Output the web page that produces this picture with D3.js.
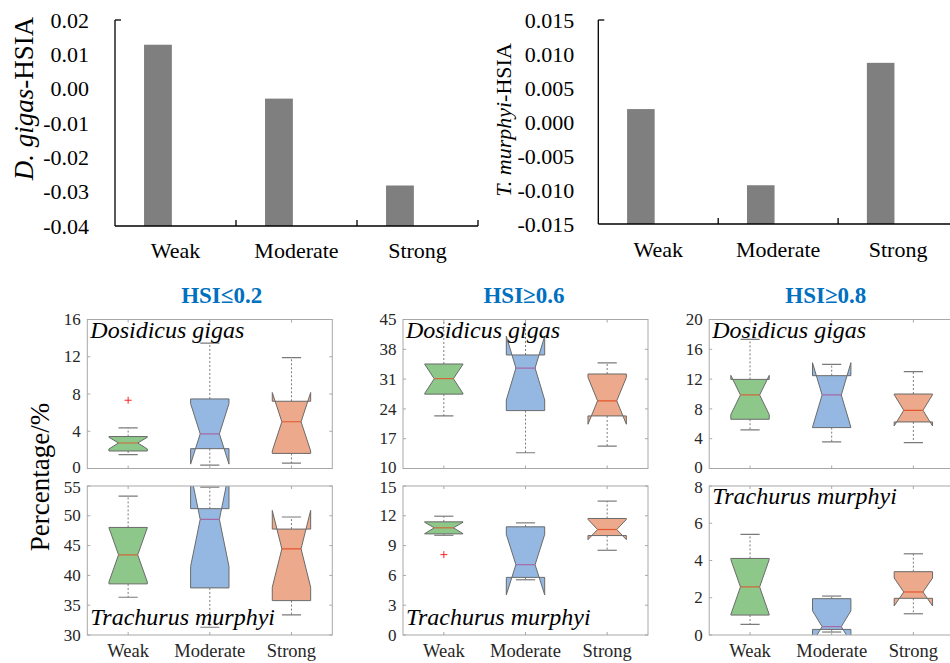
<!DOCTYPE html>
<html><head><meta charset="utf-8">
<script src="https://cdn.jsdelivr.net/npm/d3@7"></script>
<style>
body{margin:0;background:#fff}
svg{display:block}
svg text{font-family:"Liberation Serif","Times New Roman",Times,"DejaVu Serif",serif;}
</style>
</head><body>
<svg id="c" width="950" height="663"></svg>
<script>
// ---------------- DATA ----------------
const categories = ["Weak", "Moderate", "Strong"];

// top bar charts
const gigasHSIA   = [0.0128, -0.0029, -0.0282];
const murphyiHSIA = [0.0019, -0.0093, 0.0087];
const gigasHSIATicks   = [0.02, 0.01, 0.00, -0.01, -0.02, -0.03, -0.04];
const murphyiHSIATicks = [0.015, 0.010, 0.005, 0.000, -0.005, -0.010, -0.015];

// box plot panels
const panelTitles = ["HSI≤0.2", "HSI≥0.6", "HSI≥0.8"];
const speciesTop = "Dosidicus gigas";
const speciesBottom = "Trachurus murphyi";

// each: [lowerWhisker, q1, notchLow, median, notchHigh, q3, upperWhisker]
const gigasLow = [
  [1.48, 1.88, 2.10, 2.74, 3.35, 3.43, 4.37],
  [0.36, 2.13, 0.47, 3.72, 6.97, 7.47, 13.47],
  [0.58, 1.62, 1.88, 5.02, 8.16, 7.22, 11.90]
];
const gigasLowOutliers = [[7.33], [], []];
const gigasMid = [
  [22.35, 27.47, 27.60, 31.09, 34.50, 34.55, 46.0],
  [13.70, 23.60, 26.10, 33.60, 41.10, 36.67, 46.0],
  [15.27, 22.35, 20.40, 25.90, 31.40, 32.20, 34.80]
];
const gigasMidOutliers = [[], [], []];
const gigasHigh = [
  [5.18, 6.61, 7.24, 9.87, 12.50, 11.96, 17.32],
  [3.57, 5.49, 5.54, 9.87, 14.20, 12.46, 13.97],
  [3.48, 6.25, 5.71, 7.81, 9.91, 10.00, 12.99]
];
const gigasHighOutliers = [[], [], []];

const murphyiLow = [
  [36.33, 38.58, 38.90, 43.45, 48.00, 48.05, 53.30],
  [31.30, 37.90, 41.50, 49.40, 57.30, 51.20, 54.80],
  [33.36, 35.77, 38.00, 44.46, 50.90, 47.77, 49.80]
];
const murphyiLowOutliers = [[], [], []];
const murphyiMid = [
  [10.04, 10.18, 10.20, 10.79, 11.35, 11.39, 11.96],
  [5.56, 5.80, 4.04, 7.08, 10.12, 10.89, 11.29],
  [8.53, 10.01, 9.60, 10.62, 11.64, 11.73, 13.48]
];
const murphyiMidOutliers = [[8.09], [], []];
const murphyiHigh = [
  [0.57, 1.07, 1.10, 2.58, 4.05, 4.11, 5.40],
  [0.16, 0.30, -0.40, 0.45, 1.30, 1.95, 2.09],
  [1.14, 1.97, 1.56, 2.31, 3.06, 3.40, 4.36]
];
const murphyiHighOutliers = [[], [], []];

const gigasTicksLow  = [0, 4, 8, 12, 16];
const gigasTicksMid  = [10, 17, 24, 31, 38, 45];
const gigasTicksHigh = [0, 4, 8, 12, 16, 20];
const murphyiTicksLow  = [30, 35, 40, 45, 50, 55];
const murphyiTicksMid  = [0, 3, 6, 9, 12, 15];
const murphyiTicksHigh = [0, 2, 4, 6, 8];

// ---------------- STYLE ----------------
const boxFill = ["#8dc88a", "#94b8e1", "#eca98b"];
const medianColor = ["#d0693a", "#a56aa6", "#e4572e"];
const svg = d3.select("#c");
const defs = svg.append("defs");

// ---------------- BAR CHARTS ----------------
function fmt(d, p) { return d3.format("." + p + "f")(d).replace("−", "-"); }

function barChart(o) {
  const g = svg.append("g");
  const x = d3.scaleBand().domain(categories).range([o.x0, o.x1]);
  const y = d3.scaleLinear().domain([o.ticks[o.ticks.length - 1], o.ticks[0]]).range([o.yb, o.yt]);
  const bw = x.bandwidth();
  g.selectAll("rect.bar").data(o.values).join("rect")
    .attr("x", (d, i) => x(categories[i]) + bw * 0.24)
    .attr("width", bw * 0.23)
    .attr("y", d => y(d))
    .attr("height", d => y.range()[0] - y(d))
    .attr("fill", "#7f7f7f");
  g.append("line").attr("x1", o.x0).attr("x2", o.x0).attr("y1", y.range()[1]).attr("y2", y.range()[0])
    .attr("stroke", "#000").attr("stroke-width", 1.3);
  g.append("line").attr("x1", o.x0).attr("x2", o.x0 + 6).attr("y1", y.range()[1]).attr("y2", y.range()[1])
    .attr("stroke", "#000").attr("stroke-width", 1.3);
  g.append("line").attr("x1", o.x0).attr("x2", o.x1).attr("y1", y.range()[0]).attr("y2", y.range()[0])
    .attr("stroke", "#000").attr("stroke-width", 1.3);
  g.selectAll("line.xt").data(categories).join("line")
    .attr("x1", d => x(d) + bw).attr("x2", d => x(d) + bw)
    .attr("y1", y.range()[0]).attr("y2", y.range()[0] - 6)
    .attr("stroke", "#000").attr("stroke-width", 1.3);
  g.selectAll("text.yl").data(o.ticks).join("text")
    .attr("x", o.x0 - o.labGap).attr("y", d => y(d)).attr("dy", "0.35em")
    .attr("text-anchor", "end").attr("font-size", 22).attr("fill", "#000")
    .text(d => fmt(d, o.prec));
  g.selectAll("text.xl").data(categories).join("text")
    .attr("x", d => x(d) + bw / 2).attr("y", o.xlabY)
    .attr("text-anchor", "middle").attr("font-size", 22).attr("fill", "#000")
    .text(d => d);
  const t = g.append("text")
    .attr("transform", `translate(${o.titleX},${o.titleY}) rotate(-90)`)
    .attr("text-anchor", "middle").attr("font-size", o.titleSize).attr("fill", "#000");
  t.append("tspan").attr("font-style", "italic").text(o.titleIt);
  t.append("tspan").text(o.titleRest);
}

barChart({ x0: 115, x1: 478, yt: 20, yb: 226, values: gigasHSIA, ticks: gigasHSIATicks, prec: 2, labGap: 26,
  xlabY: 258, titleX: 32.5, titleY: 98.5, titleSize: 27, titleIt: "D. gigas", titleRest: "-HSIA" });
barChart({ x0: 598.3, x1: 958, yt: 20, yb: 224, values: murphyiHSIA, ticks: murphyiHSIATicks, prec: 3, labGap: 24,
  xlabY: 256.7, titleX: 510.5, titleY: 120, titleSize: 22, titleIt: "T. murphyi", titleRest: "-HSIA" });

// ---------------- BOX PANELS ----------------
const panelLefts = [87.3, 403, 709.2];
const panelW = 245;
const rowTop = [[319.5, 468.5], [486, 635]];
const titleCenters = [221.7, 524, 825.8];

function boxPanel(idx, col, row, data, outliers, ticks, species, specY, showX) {
  const left = panelLefts[col], right = left + panelW;
  const [top, bottom] = rowTop[row];
  const x = d3.scaleBand().domain(categories).range([left, right]);
  const y = d3.scaleLinear().domain([ticks[0], ticks[ticks.length - 1]]).range([bottom, top]);
  const bw = x.bandwidth();
  const w = bw * 0.235, nw = w * 0.5;
  const id = "clip" + idx;
  defs.append("clipPath").attr("id", id).append("rect")
    .attr("x", left).attr("y", top).attr("width", panelW).attr("height", bottom - top);
  const g = svg.append("g");
  const inner = g.append("g").attr("clip-path", `url(#${id})`);

  data.forEach((d, i) => {
    const [wlo, q1, nlo, med, nhi, q3, whi] = d;
    const cx = x(categories[i]) + bw / 2;
    inner.append("line").attr("x1", cx).attr("x2", cx).attr("y1", y(q3)).attr("y2", y(whi))
      .attr("stroke", "#7a7a7a").attr("stroke-width", 1).attr("stroke-dasharray", "2,2");
    inner.append("line").attr("x1", cx).attr("x2", cx).attr("y1", y(q1)).attr("y2", y(wlo))
      .attr("stroke", "#7a7a7a").attr("stroke-width", 1).attr("stroke-dasharray", "2,2");
    const pts = [[cx - w, q1], [cx - w, nlo], [cx - nw, med], [cx - w, nhi], [cx - w, q3],
                 [cx + w, q3], [cx + w, nhi], [cx + nw, med], [cx + w, nlo], [cx + w, q1]];
    inner.append("path")
      .attr("d", "M" + pts.map(p => p[0] + "," + y(p[1])).join("L") + "Z")
      .attr("fill", boxFill[i]).attr("stroke", "#6a6a6a").attr("stroke-width", 1);
    inner.append("line").attr("x1", cx - nw).attr("x2", cx + nw).attr("y1", y(med)).attr("y2", y(med))
      .attr("stroke", medianColor[i]).attr("stroke-width", 1.2);
    [wlo, whi].forEach(v => {
      inner.append("line").attr("x1", cx - w / 2).attr("x2", cx + w / 2).attr("y1", y(v)).attr("y2", y(v))
        .attr("stroke", "#7a7a7a").attr("stroke-width", 1.2);
    });
    outliers[i].forEach(v => {
      inner.append("path")
        .attr("d", `M${cx - 3.5},${y(v)}H${cx + 3.5}M${cx},${y(v) - 3.5}V${y(v) + 3.5}`)
        .attr("stroke", "#ff2020").attr("stroke-width", 1);
    });
  });

  g.append("rect").attr("x", left).attr("y", top).attr("width", panelW).attr("height", bottom - top)
    .attr("fill", "none").attr("stroke", "#a8a8a8").attr("stroke-width", 1);
  ticks.forEach(t => {
    g.append("line").attr("x1", left).attr("x2", left + 3).attr("y1", y(t)).attr("y2", y(t)).attr("stroke", "#a8a8a8");
    g.append("line").attr("x1", right).attr("x2", right - 3).attr("y1", y(t)).attr("y2", y(t)).attr("stroke", "#a8a8a8");
  });
  categories.forEach(c => {
    const cx = x(c) + bw / 2;
    g.append("line").attr("x1", cx).attr("x2", cx).attr("y1", top).attr("y2", top + 3).attr("stroke", "#a8a8a8");
    g.append("line").attr("x1", cx).attr("x2", cx).attr("y1", bottom).attr("y2", bottom - 3).attr("stroke", "#a8a8a8");
  });
  const last = ticks.length - 1;
  g.selectAll("text.yl").data(ticks).join("text")
    .attr("x", left - 6.5).attr("y", d => y(d))
    .attr("dy", (d, i) => (row === 0 && i === 0) ? "0.26em" : (row === 1 && i === last) ? "0.42em" : "0.33em")
    .attr("text-anchor", "end").attr("font-size", 17).attr("fill", "#262626")
    .text(d => d);
  if (showX) {
    g.selectAll("text.xl").data(categories).join("text")
      .attr("x", d => x(d) + bw / 2).attr("y", 656.7)
      .attr("text-anchor", "middle").attr("font-size", 18.5).attr("fill", "#262626")
      .text(d => d);
  }
  g.append("text").attr("x", left + 3).attr("y", specY)
    .attr("font-style", "italic").attr("font-size", 24).attr("fill", "#000")
    .text(species);
}

boxPanel(0, 0, 0, gigasLow, gigasLowOutliers, gigasTicksLow, speciesTop, 337.5, false);
boxPanel(1, 1, 0, gigasMid, gigasMidOutliers, gigasTicksMid, speciesTop, 337.5, false);
boxPanel(2, 2, 0, gigasHigh, gigasHighOutliers, gigasTicksHigh, speciesTop, 337.5, false);
boxPanel(3, 0, 1, murphyiLow, murphyiLowOutliers, murphyiTicksLow, speciesBottom, 625, true);
boxPanel(4, 1, 1, murphyiMid, murphyiMidOutliers, murphyiTicksMid, speciesBottom, 625, true);
boxPanel(5, 2, 1, murphyiHigh, murphyiHighOutliers, murphyiTicksHigh, speciesBottom, 503.5, true);

svg.selectAll("text.pt").data(panelTitles).join("text")
  .attr("x", (d, i) => titleCenters[i]).attr("y", 302.5)
  .attr("text-anchor", "middle").attr("font-weight", "bold")
  .attr("font-size", 23).attr("fill", "#0070C0").text(d => d);

svg.append("text").attr("transform", "translate(48.5,477) rotate(-90)")
  .attr("text-anchor", "middle").attr("font-size", 27).attr("fill", "#000")
  .text("Percentage/%");
</script>
</body></html>
